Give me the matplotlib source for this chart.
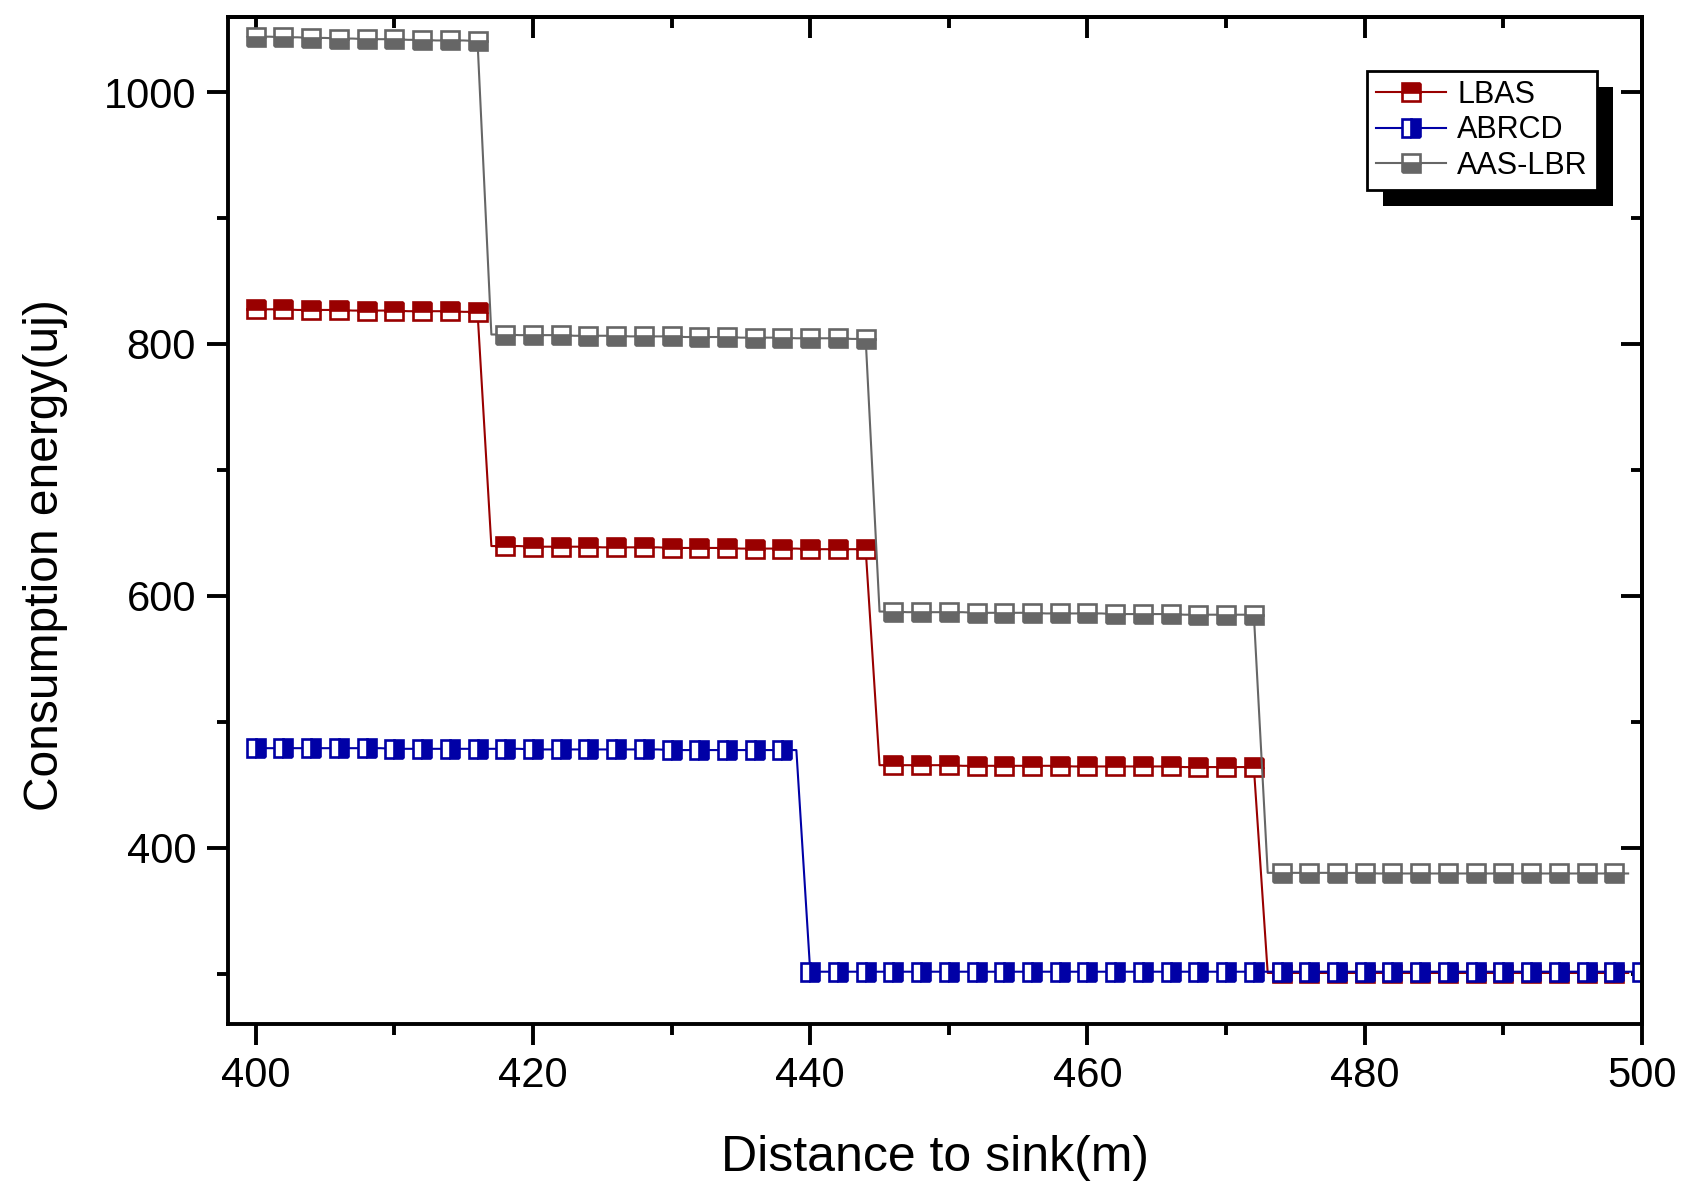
import numpy as np
import matplotlib
matplotlib.use("Agg")
import matplotlib.pyplot as plt
from matplotlib.patches import Rectangle
from matplotlib.ticker import MultipleLocator

plt.rcParams['font.family'] = ['Liberation Sans', 'DejaVu Sans']

# distance to sink (m), one point per metre
dist = list(range(400, 501))

lbas = [827.5, 827.5, 827.5, 827, 827, 827, 827, 826.5, 826.5, 826.5,
        826.5, 826, 826, 826, 826, 825.5, 825.5,
        639.5, 639.5, 639.5, 639, 639, 639, 639, 639, 638.5, 638.5,
        638.5, 638.5, 638.5, 638, 638, 638, 638, 638, 637.5, 637.5,
        637.5, 637.5, 637.5, 637, 637, 637, 637, 637,
        465.5, 465.5, 465.5, 465.5, 465.5, 465.5, 465, 465, 465, 465,
        465, 465, 465, 465, 464.5, 464.5, 464.5, 464.5, 464.5, 464.5,
        464.5, 464.5, 464, 464, 464, 464, 464, 464,
        300.5, 300.5, 300.5, 300.5, 300.5, 300.5, 300.5, 300.5, 300.5, 300.5,
        300.5, 300.5, 300.5, 300.5, 300.5, 300.5, 300.5, 300.5, 300.5, 300.5,
        300.5, 300.5, 300.5, 300.5, 300.5, 300.5, 300.5]

abrcd = [479, 479, 479, 479, 479, 479, 479, 479, 479, 479,
         478.5, 478.5, 478.5, 478.5, 478.5, 478.5, 478.5, 478.5, 478.5, 478.5,
         478, 478, 478, 478, 478, 478, 478, 478, 478, 478,
         477.5, 477.5, 477.5, 477.5, 477.5, 477.5, 477.5, 477.5, 477.5, 477.5,
         301.5, 301.5, 301.5, 301.5, 301.5, 301.5, 301.5, 301.5, 301.5, 301.5,
         301.5, 301.5, 301.5, 301.5, 301.5, 301.5, 301.5, 301.5, 301.5, 301.5,
         301.5, 301.5, 301.5, 301.5, 301.5, 301.5, 301.5, 301.5, 301.5, 301.5,
         301.5, 301.5, 301.5, 301.5, 301.5, 301.5, 301.5, 301.5, 301.5, 301.5,
         301.5, 301.5, 301.5, 301.5, 301.5, 301.5, 301.5, 301.5, 301.5, 301.5,
         301.5, 301.5, 301.5, 301.5, 301.5, 301.5, 301.5, 301.5, 301.5, 301.5,
         301.5]

aas_lbr = [1044, 1044, 1043.5, 1043.5, 1043, 1043, 1042.5, 1042.5, 1042, 1042,
           1042, 1041.5, 1041.5, 1041, 1041, 1041, 1040.5,
           807.5, 807.5, 807, 807, 807, 807, 806.5, 806.5, 806.5, 806.5,
           806, 806, 806, 806, 805.5, 805.5, 805.5, 805.5, 805, 805,
           805, 805, 804.5, 804.5, 804.5, 804.5, 804, 804,
           587.5, 587.5, 587, 587, 587, 587, 587, 586.5, 586.5, 586.5,
           586.5, 586.5, 586, 586, 586, 586, 586, 585.5, 585.5, 585.5,
           585.5, 585.5, 585, 585, 585, 585, 585, 585,
           380, 380, 380, 380, 380, 380, 380, 380, 379.5, 379.5,
           379.5, 379.5, 379.5, 379.5, 379.5, 379.5, 379.5, 379.5, 379.5, 379.5,
           379.5, 379.5, 379.5, 379.5, 379.5, 379.5, 379.5]

names = ["LBAS", "ABRCD", "AAS-LBR"]
colors = ["#990000", "#0000A6", "#666666"]
fills = ["top", "right", "bottom"]

fig = plt.figure(figsize=[16.9, 11.89], dpi=100)
ax = fig.add_axes([0.1349, 0.1388, 0.8367, 0.8473])

series = [lbas, abrcd, aas_lbr]
for ys, name, c, fs in zip(series, names, colors, fills):
    xs = dist[:len(ys)]
    ax.plot(xs, ys, color=c, lw=1.5, marker="s", markevery=2, ms=13.2,
            mew=1.9, mec=c, mfc=c, mfcalt="white", fillstyle=fs, label=name)

ax.set_xlim(398, 500)
ax.set_ylim(260, 1060)
ax.xaxis.set_major_locator(MultipleLocator(20))
ax.xaxis.set_minor_locator(MultipleLocator(10))
ax.yaxis.set_major_locator(MultipleLocator(200))
ax.yaxis.set_minor_locator(MultipleLocator(100))

for s in ax.spines.values():
    s.set_linewidth(2.8)

ax.tick_params(which="both", direction="out", width=2.8, labelsize=30,
               top=False, right=False, pad=8)
ax.tick_params(which="major", length=15)
ax.tick_params(which="minor", length=8)

# top / right ticks point inward
sx = ax.secondary_xaxis("top")
sx.xaxis.set_major_locator(MultipleLocator(20))
sx.xaxis.set_minor_locator(MultipleLocator(10))
sx.tick_params(which="both", direction="in", width=2.8, labeltop=False)
sx.tick_params(which="major", length=15)
sx.tick_params(which="minor", length=8)
sy = ax.secondary_yaxis("right")
sy.yaxis.set_major_locator(MultipleLocator(200))
sy.yaxis.set_minor_locator(MultipleLocator(100))
sy.tick_params(which="both", direction="in", width=2.8, labelright=False)
sy.tick_params(which="major", length=15)
sy.tick_params(which="minor", length=8)
for s in list(sx.spines.values()) + list(sy.spines.values()):
    s.set_linewidth(2.8)

ax.set_xlabel("Distance to sink(m)", fontsize=36)
ax.xaxis.set_label_coords(0.5, -0.1105)
ax.set_ylabel("Consumption energy(uj)", fontsize=34.5)
ax.yaxis.set_label_coords(-0.1129, 0.4655)

leg = ax.legend(loc="upper left", bbox_to_anchor=(0.8089, 0.9405),
                bbox_transform=fig.transFigure, borderaxespad=0,
                fontsize=22, numpoints=1, handlelength=2.3, fancybox=False,
                frameon=True, edgecolor="black", framealpha=1,
                borderpad=0.3, labelspacing=0.18, handletextpad=0.35)
leg.get_frame().set_linewidth(2)
leg.set_zorder(6)

# solid black drop shadow behind the legend box
fig.canvas.draw()
bb = leg.get_window_extent()
inv = ax.transAxes.inverted()
(x0, y0) = inv.transform((bb.x0 + 16, bb.y0 - 16))
(x1, y1) = inv.transform((bb.x1 + 16, bb.y1 - 16))
ax.add_patch(Rectangle((x0, y0), x1 - x0, y1 - y0, transform=ax.transAxes,
                       facecolor="black", edgecolor="none", zorder=5,
                       clip_on=False))

plt.savefig("out.png", dpi=100)
